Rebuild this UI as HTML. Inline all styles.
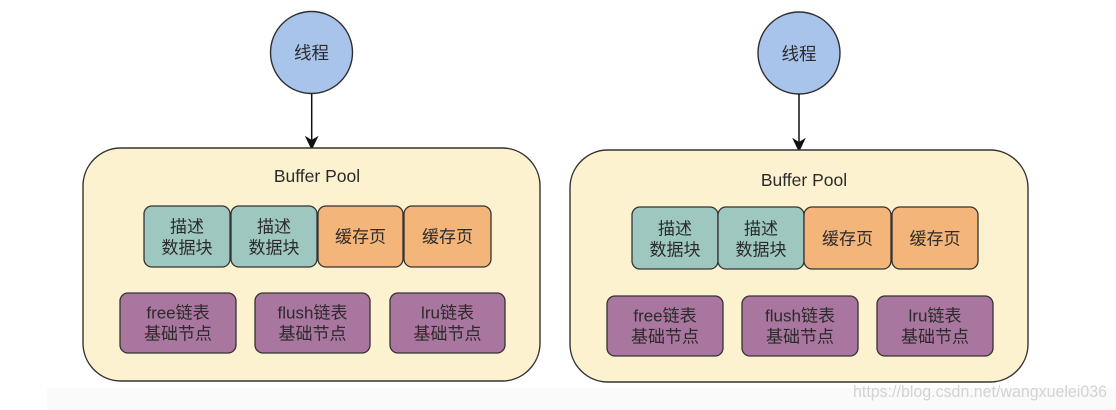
<!DOCTYPE html>
<html>
<head>
<meta charset="utf-8">
<style>
  html,body{margin:0;padding:0;background:#fff;}
  svg{display:block;}
  text{font-family:"Liberation Sans","Noto Sans CJK SC",sans-serif;fill:#2b2b2b;}
</style>
</head>
<body>
<svg width="1116" height="410" viewBox="0 0 1116 410" xmlns="http://www.w3.org/2000/svg">
  <rect x="0" y="0" width="1116" height="410" fill="#ffffff"/>
  <rect x="47" y="388" width="1069" height="22" fill="#fafafa"/>

  <!-- LEFT DIAGRAM -->
  <g>
    <circle cx="311.5" cy="52.5" r="41" fill="#a9c4eb" stroke="#2f2f2f" stroke-width="1.4"/>
    <text x="311.5" y="53" font-size="17.5" text-anchor="middle" dominant-baseline="central">线程</text>
    <line x1="311.7" y1="93.5" x2="311.7" y2="141" stroke="#111" stroke-width="1.5"/>
    <path d="M311.7,149 L306,137 L311.7,140.5 L317.4,137 Z" fill="#111" stroke="#111" stroke-width="1"/>

    <rect x="83" y="148" width="457" height="233" rx="38" ry="38" fill="#fdf2cf" stroke="#333" stroke-width="1.4"/>
    <text x="317" y="176" font-size="17.5" text-anchor="middle" dominant-baseline="central">Buffer Pool</text>

    <rect x="144" y="206" width="86" height="61" rx="8" fill="#9ec7c0" stroke="#333" stroke-width="1.3"/>
    <rect x="231" y="206" width="86" height="61" rx="8" fill="#9ec7c0" stroke="#333" stroke-width="1.3"/>
    <rect x="318" y="206" width="85" height="61" rx="8" fill="#f3b57a" stroke="#333" stroke-width="1.3"/>
    <rect x="404" y="206" width="87" height="61" rx="8" fill="#f3b57a" stroke="#333" stroke-width="1.3"/>
    <text x="187" y="227" font-size="17" text-anchor="middle" dominant-baseline="central">描述</text>
    <text x="187" y="248" font-size="17" text-anchor="middle" dominant-baseline="central">数据块</text>
    <text x="274" y="227" font-size="17" text-anchor="middle" dominant-baseline="central">描述</text>
    <text x="274" y="248" font-size="17" text-anchor="middle" dominant-baseline="central">数据块</text>
    <text x="360.5" y="237" font-size="17" text-anchor="middle" dominant-baseline="central">缓存页</text>
    <text x="447.5" y="237" font-size="17" text-anchor="middle" dominant-baseline="central">缓存页</text>

    <rect x="120" y="293" width="116" height="60" rx="8" fill="#a8769e" stroke="#333" stroke-width="1.3"/>
    <rect x="255" y="293" width="115" height="60" rx="8" fill="#a8769e" stroke="#333" stroke-width="1.3"/>
    <rect x="390" y="293" width="115" height="60" rx="8" fill="#a8769e" stroke="#333" stroke-width="1.3"/>
    <text x="178" y="313" font-size="17" text-anchor="middle" dominant-baseline="central">free链表</text>
    <text x="178" y="334" font-size="17" text-anchor="middle" dominant-baseline="central">基础节点</text>
    <text x="312.5" y="313" font-size="17" text-anchor="middle" dominant-baseline="central">flush链表</text>
    <text x="312.5" y="334" font-size="17" text-anchor="middle" dominant-baseline="central">基础节点</text>
    <text x="447.5" y="313" font-size="17" text-anchor="middle" dominant-baseline="central">lru链表</text>
    <text x="447.5" y="334" font-size="17" text-anchor="middle" dominant-baseline="central">基础节点</text>
  </g>

  <!-- RIGHT DIAGRAM -->
  <g>
    <circle cx="799" cy="53" r="41" fill="#a9c4eb" stroke="#2f2f2f" stroke-width="1.4"/>
    <text x="799" y="54" font-size="17.5" text-anchor="middle" dominant-baseline="central">线程</text>
    <line x1="799" y1="94" x2="799" y2="143" stroke="#111" stroke-width="1.5"/>
    <path d="M799,151 L793.3,139 L799,142.5 L804.7,139 Z" fill="#111" stroke="#111" stroke-width="1"/>

    <rect x="570" y="150" width="458" height="232" rx="38" ry="38" fill="#fdf2cf" stroke="#333" stroke-width="1.4"/>
    <text x="804" y="180" font-size="17.5" text-anchor="middle" dominant-baseline="central">Buffer Pool</text>

    <rect x="632" y="207" width="86" height="62" rx="8" fill="#9ec7c0" stroke="#333" stroke-width="1.3"/>
    <rect x="718" y="207" width="86" height="62" rx="8" fill="#9ec7c0" stroke="#333" stroke-width="1.3"/>
    <rect x="804" y="207" width="87" height="62" rx="8" fill="#f3b57a" stroke="#333" stroke-width="1.3"/>
    <rect x="892" y="207" width="86" height="62" rx="8" fill="#f3b57a" stroke="#333" stroke-width="1.3"/>
    <text x="675" y="229" font-size="17" text-anchor="middle" dominant-baseline="central">描述</text>
    <text x="675" y="250" font-size="17" text-anchor="middle" dominant-baseline="central">数据块</text>
    <text x="761" y="229" font-size="17" text-anchor="middle" dominant-baseline="central">描述</text>
    <text x="761" y="250" font-size="17" text-anchor="middle" dominant-baseline="central">数据块</text>
    <text x="847.5" y="239" font-size="17" text-anchor="middle" dominant-baseline="central">缓存页</text>
    <text x="935" y="239" font-size="17" text-anchor="middle" dominant-baseline="central">缓存页</text>

    <rect x="607" y="296" width="116" height="60" rx="8" fill="#a8769e" stroke="#333" stroke-width="1.3"/>
    <rect x="742" y="296" width="116" height="60" rx="8" fill="#a8769e" stroke="#333" stroke-width="1.3"/>
    <rect x="877" y="296" width="116" height="60" rx="8" fill="#a8769e" stroke="#333" stroke-width="1.3"/>
    <text x="665" y="316" font-size="17" text-anchor="middle" dominant-baseline="central">free链表</text>
    <text x="665" y="337" font-size="17" text-anchor="middle" dominant-baseline="central">基础节点</text>
    <text x="800" y="316" font-size="17" text-anchor="middle" dominant-baseline="central">flush链表</text>
    <text x="800" y="337" font-size="17" text-anchor="middle" dominant-baseline="central">基础节点</text>
    <text x="935" y="316" font-size="17" text-anchor="middle" dominant-baseline="central">lru链表</text>
    <text x="935" y="337" font-size="17" text-anchor="middle" dominant-baseline="central">基础节点</text>
  </g>

  <!-- watermark -->
  <text x="853" y="397" font-size="16.5" textLength="254" lengthAdjust="spacingAndGlyphs" style="fill:#d3d3d3">https://blog.csdn.net/wangxuelei036</text>
</svg>
</body>
</html>
